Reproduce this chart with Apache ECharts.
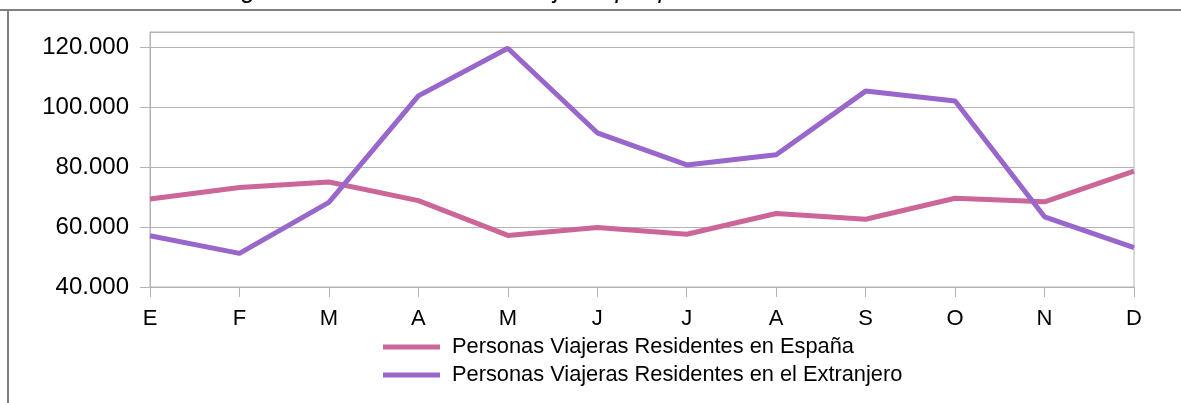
<!DOCTYPE html>
<html>
<head>
<meta charset="utf-8">
<script src="https://cdn.jsdelivr.net/npm/echarts@6/dist/echarts.min.js"></script>
<style>
  html, body { margin: 0; padding: 0; background: #fff; }
  #chart { width: 1181px; height: 403px; }
</style>
</head>
<body>
<div id="chart"></div>
<script>
// meses
const months = ['E', 'F', 'M', 'A', 'M', 'J', 'J', 'A', 'S', 'O', 'N', 'D']
const residentesEspana = [69300, 73200, 75000, 68800, 57200, 59800, 57600, 64500, 62600, 69600, 68400, 78600]
const residentesExtranjero = [57100, 51200, 68200, 103700, 119600, 91400, 80700, 84100, 105300, 102000, 63400, 53100]
const seriesNames = ['Personas Viajeras Residentes en España', 'Personas Viajeras Residentes en el Extranjero']

const chart = echarts.init(document.getElementById('chart'), null, { renderer: 'canvas' })
const font = 'Liberation Sans, Arial, sans-serif'

const option = {
  animation: false,
  color: ['#cc6699', '#9966cc'],
  graphic: [
    // titulo cortado arriba
    { type: 'text', left: 221, top: -21, style: { text: 'Figura 24', font: 'italic 25px ' + font, fill: '#000' } },
    { type: 'text', left: 410, top: -21, style: { text: 'Personas viajeras por puntos turísticos. Año 2018.', font: 'italic 25px ' + font, fill: '#000' } },
    // marco exterior
    { type: 'line', shape: { x1: 0, y1: 10, x2: 1181, y2: 10 }, style: { stroke: '#808080', lineWidth: 2 } },
    { type: 'line', shape: { x1: 8, y1: 10, x2: 8, y2: 403 }, style: { stroke: '#808080', lineWidth: 2 } }
  ],
  legend: {
    orient: 'vertical',
    left: 378,
    top: 331,
    itemWidth: 57,
    itemHeight: 5,
    itemGap: 6,
    icon: 'rect',
    data: seriesNames,
    textStyle: { fontSize: 21.8, lineHeight: 22, fontFamily: font, color: '#000', padding: [0, 0, 0, 7] }
  },
  grid: {
    left: 150,
    right: 47,
    top: 32,
    bottom: 116,
    show: true,
    borderColor: '#b3b3b3',
    borderWidth: 1
  },
  xAxis: {
    type: 'category',
    data: months,
    boundaryGap: false,
    axisLine: { lineStyle: { color: '#b3b3b3' } },
    axisTick: { length: 10, alignWithLabel: true, lineStyle: { color: '#b3b3b3' } },
    axisLabel: { color: '#000', fontSize: 22, fontFamily: font, margin: 21 },
    splitLine: { show: false }
  },
  yAxis: {
    type: 'value',
    min: 40000,
    max: 125000,
    interval: 20000,
    axisLine: { show: true, lineStyle: { color: '#b3b3b3' } },
    axisTick: { show: true, length: 10, lineStyle: { color: '#b3b3b3' } },
    axisLabel: {
      color: '#000', fontSize: 24, fontFamily: font, margin: 21,
      showMaxLabel: false,
      formatter: function (v) {
        if (v % 20000 != 0) return ''
        return (v / 1000) + '.000'
      }
    },
    splitLine: { lineStyle: { color: '#b3b3b3' } }
  },
  series: [{
    name: seriesNames[0],
    type: 'line',
    data: residentesEspana,
    symbol: 'none',
    lineStyle: { width: 5 }
  }, {
    name: seriesNames[1],
    type: 'line',
    data: residentesExtranjero,
    symbol: 'none',
    lineStyle: { width: 5 }
  }]
}
chart.setOption(option)
</script>
</body>
</html>
